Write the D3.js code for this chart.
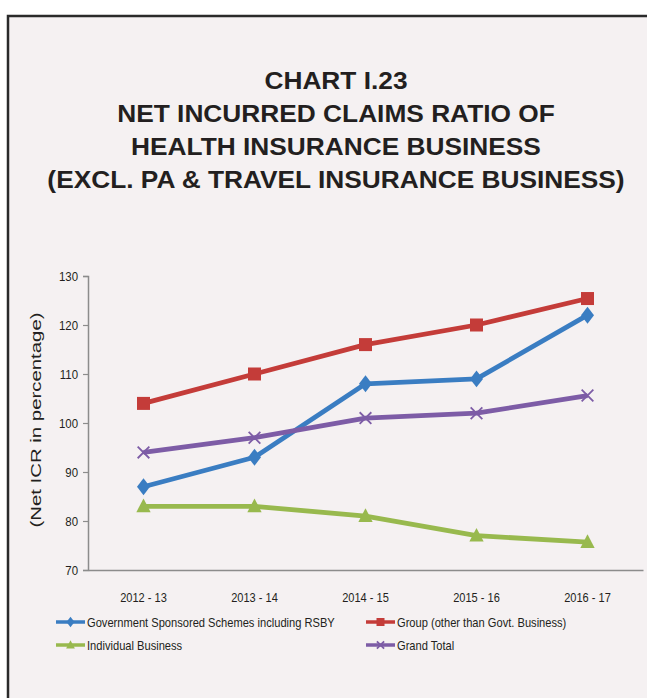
<!DOCTYPE html>
<html><head><meta charset="utf-8">
<script src="https://cdn.jsdelivr.net/npm/d3@7"></script>
<style>
html,body{margin:0;padding:0;background:#fff;}
svg{display:block;}
</style></head>
<body>
<script>
const categories = ["2012 - 13","2013 - 14","2014 - 15","2015 - 16","2016 - 17"];
const govValues = [87, 93, 108, 109, 122];
const groupValues = [104, 110, 116, 120, 125.4];
const individualValues = [83, 83, 81, 77, 75.7];
const grandValues = [94, 97, 101, 102, 105.6];
const yTicks = [70, 80, 90, 100, 110, 120, 130];
const titleLines = ["CHART I.23","NET INCURRED CLAIMS RATIO OF","HEALTH INSURANCE BUSINESS","(EXCL. PA & TRAVEL INSURANCE BUSINESS)"];
const seriesNames = ["Government Sponsored Schemes including RSBY","Group (other than Govt. Business)","Individual Business","Grand Total"];

const series = [
  {name: seriesNames[0], values: govValues, color: "#3a7dc2", marker: "diamond"},
  {name: seriesNames[1], values: groupValues, color: "#c43c39", marker: "square"},
  {name: seriesNames[2], values: individualValues, color: "#98b94e", marker: "triangle"},
  {name: seriesNames[3], values: grandValues, color: "#7d5ca6", marker: "x"}
];

const W = 647, H = 698;
const svg = d3.select("body").append("svg").attr("width", W).attr("height", H);

function stretch(sel, k) {
  sel.each(function() {
    const len = this.getComputedTextLength();
    d3.select(this).attr("textLength", len * k).attr("lengthAdjust", "spacingAndGlyphs");
  });
}

// frame
svg.append("rect").attr("x", 8).attr("y", 16).attr("width", W + 10).attr("height", H + 10)
  .attr("fill", "#f5f1f2").attr("stroke", "#2a2a2a").attr("stroke-width", 2.5);

// title
const titleG = svg.append("g");
titleLines.forEach((t, i) => {
  titleG.append("text").attr("x", 336).attr("y", 89 + i * 33)
    .attr("text-anchor", "middle")
    .attr("font-family", "Liberation Sans, Arial, sans-serif")
    .attr("font-weight", "bold").attr("font-size", 24)
    .attr("fill", "#231f20").text(t);
});
stretch(titleG.selectAll("text"), 1.095);

const pLeft = 88, pRight = 643, pTop = 276, pBottom = 570;
const x = d3.scaleBand().domain(categories).range([pLeft, pRight]);
const y = d3.scaleLinear().domain([70, 130]).range([pBottom, pTop]);
const cx = c => x(c) + x.bandwidth() / 2;

const font = "Liberation Sans, Arial, sans-serif";

// y axis
const yAxis = svg.append("g").attr("transform", `translate(${pLeft},0)`)
  .call(d3.axisLeft(y).tickValues(yTicks).tickSize(5).tickPadding(5));
yAxis.select(".domain").attr("stroke", "#8c8c8c").attr("stroke-width", 1.5);
yAxis.selectAll(".tick line").attr("stroke", "#8c8c8c").attr("stroke-width", 1.2);
yAxis.selectAll(".tick text").attr("font-family", font).attr("font-size", 13).attr("fill", "#231f20");
stretch(yAxis.selectAll(".tick text"), 0.88);

// x axis
const xAxis = svg.append("g").attr("transform", `translate(0,${pBottom})`)
  .call(d3.axisBottom(x).tickSize(0).tickPadding(23));
xAxis.select(".domain").attr("stroke", "#8c8c8c").attr("stroke-width", 1.5);
xAxis.selectAll(".tick text").attr("font-family", font).attr("font-size", 13).attr("fill", "#231f20");
stretch(xAxis.selectAll(".tick text"), 0.85);

// y label
const yl = svg.append("text").attr("transform", `translate(41,${420}) rotate(-90)`)
  .attr("text-anchor", "middle")
  .attr("font-family", font).attr("font-size", 15)
  .attr("fill", "#231f20").text("(Net ICR in percentage)");
yl.attr("textLength", 215).attr("lengthAdjust", "spacingAndGlyphs");

function drawMarker(g, type, color, px, py, s) {
  if (type === "diamond") {
    g.append("path").attr("d", `M${px},${py - s * 0.65}L${px + s * 0.5},${py}L${px},${py + s * 0.65}L${px - s * 0.5},${py}Z`).attr("fill", color);
  } else if (type === "square") {
    g.append("rect").attr("x", px - s / 2).attr("y", py - s / 2).attr("width", s).attr("height", s).attr("fill", color);
  } else if (type === "triangle") {
    g.append("path").attr("d", `M${px},${py - s * 0.6}L${px + s * 0.55},${py + s * 0.45}L${px - s * 0.55},${py + s * 0.45}Z`).attr("fill", color);
  } else if (type === "x") {
    const d = s * 0.45;
    g.append("path").attr("d", `M${px - d},${py - d}L${px + d},${py + d}M${px - d},${py + d}L${px + d},${py - d}`)
      .attr("stroke", color).attr("stroke-width", 1.8).attr("fill", "none");
  }
}

const line = d3.line().x((d, i) => cx(categories[i])).y(d => y(d));
const plot = svg.append("g");
series.forEach(s => {
  plot.append("path").datum(s.values).attr("d", line)
    .attr("fill", "none").attr("stroke", s.color).attr("stroke-width", 4.8).attr("stroke-linejoin", "round");
  const mg = plot.append("g");
  s.values.forEach((v, i) => drawMarker(mg, s.marker, s.color, cx(categories[i]), y(v), 13));
});

// legend
const legendPos = [[56, 622], [366, 622], [56, 645], [366, 645]];
series.forEach((s, i) => {
  const [lx, ly] = legendPos[i];
  const g = svg.append("g");
  g.append("line").attr("x1", lx).attr("x2", lx + 29).attr("y1", ly).attr("y2", ly)
    .attr("stroke", s.color).attr("stroke-width", 3.5);
  drawMarker(g, s.marker, s.color, lx + 14.5, ly, 8);
  const t = g.append("text").attr("x", lx + 31).attr("y", ly + 4.5)
    .attr("font-family", font).attr("font-size", 13).attr("fill", "#231f20").text(s.name);
  stretch(t, 0.855);
});
</script>
</body></html>
